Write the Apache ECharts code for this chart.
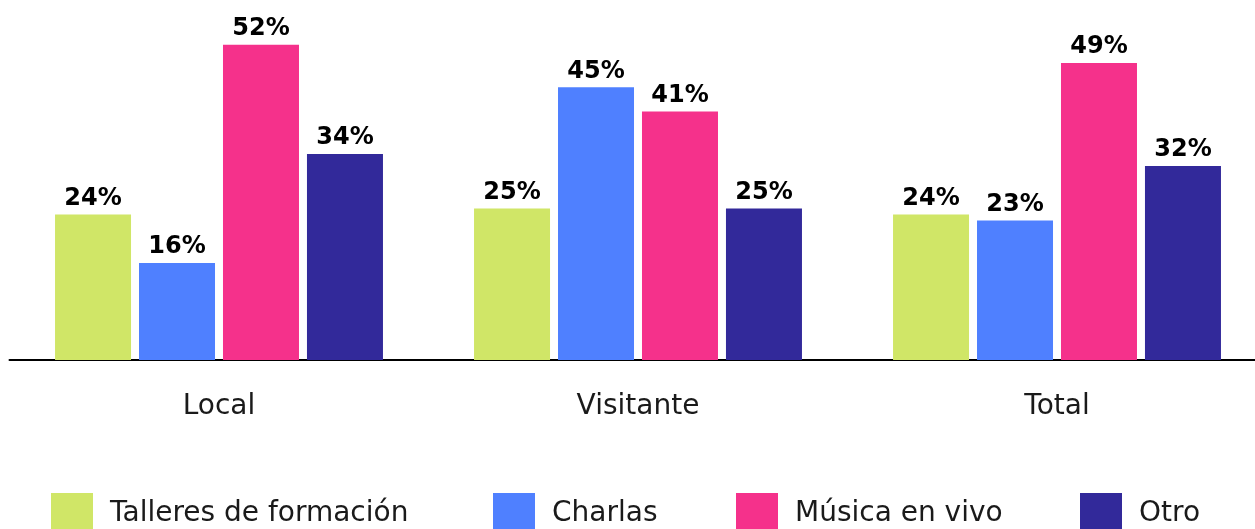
<!DOCTYPE html>
<html>
<head>
<meta charset="utf-8">
<script src="https://cdn.jsdelivr.net/npm/echarts@6/dist/echarts.min.js"></script>
<style>
	html, body { margin: 0; padding: 0; background: #fff; }
	#chart { width: 1255px; height: 529px; }
</style>
</head>
<body>
<div id="chart"></div>
<script>
const categories = ["Local", "Visitante", "Total"]
const seriesNames = ["Talleres de formación", "Charlas", "Música en vivo", "Otro"]
const talleres = [24, 25, 24]
const charlas = [16, 45, 23]
const musica = [52, 41, 49]
const otro = [34, 25, 32]
const colors = ["#d0e667", "#4f80ff", "#f5318b", "#32299a"]

const values = [talleres, charlas, musica, otro]
// one legend per item so each sits where the original puts it
const legendLeft = [51, 493, 736, 1080]

const option = {
	animation: false,
	backgroundColor: "#fff",
	color: colors,
	textStyle: { fontFamily: "DejaVu Sans" },
	grid: {
		left: 9.5,
		width: 1257,
		top: 0,
		bottom: 169,
		outerBoundsMode: "none",
	},
	legend: seriesNames.map((name, i) => ({
		left: legendLeft[i],
		top: 493,
		padding: 0,
		itemWidth: 42,
		itemHeight: 42,
		icon: "rect",
		data: [name],
		textStyle: {
			fontSize: 28,
			color: "#1a1a1a",
			padding: [6, 0, 0, 12],
		},
	})),
	xAxis: {
		type: "category",
		data: categories,
		axisLine: { lineStyle: { color: "#000", width: 2 } },
		axisTick: { show: false },
		axisLabel: {
			fontSize: 28,
			color: "#1a1a1a",
			margin: 33,
		},
	},
	yAxis: {
		type: "value",
		min: 0,
		max: 59.4,
		show: false,
		splitLine: { show: false },
	},
	series: seriesNames.map((name, i) => ({
		name,
		type: "bar",
		data: values[i],
		barWidth: 76,
		barGap: "10.5%",
		label: {
			show: true,
			position: "top",
			distance: 4,
			formatter: "{c}%",
			fontSize: 24,
			fontWeight: "bold",
			color: "#000",
		},
	})),
}

const chart = echarts.init(document.getElementById("chart"))
chart.setOption(option)
</script>
</body>
</html>
